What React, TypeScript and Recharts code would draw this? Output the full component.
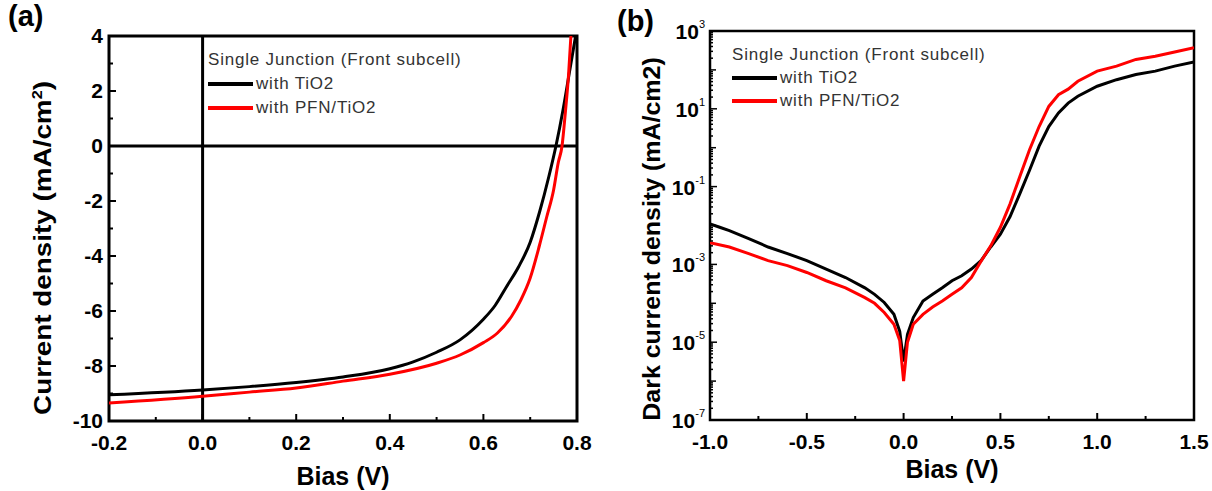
import { LineChart, Line, XAxis, YAxis, ReferenceLine, ReferenceArea } from "recharts";

// (a) J-V under illumination
const jvTiO2 = [
  { v: -0.2, j: -9.05 }, { v: 0, j: -8.87 }, { v: 0.1, j: -8.75 }, { v: 0.2, j: -8.6 },
  { v: 0.3, j: -8.4 }, { v: 0.4, j: -8.1 }, { v: 0.45, j: -7.85 }, { v: 0.5, j: -7.5 },
  { v: 0.55, j: -7.05 }, { v: 0.6, j: -6.3 }, { v: 0.625, j: -5.8 }, { v: 0.65, j: -5.1 },
  { v: 0.675, j: -4.4 }, { v: 0.7, j: -3.5 }, { v: 0.72, j: -2.4 }, { v: 0.74, j: -1.1 },
  { v: 0.755, j: 0 }, { v: 0.77, j: 1.3 }, { v: 0.785, j: 2.8 }, { v: 0.797, j: 4 },
];
const jvPFN = [
  { v: -0.2, j: -9.35 }, { v: 0, j: -9.1 }, { v: 0.1, j: -8.95 }, { v: 0.2, j: -8.8 },
  { v: 0.3, j: -8.55 }, { v: 0.4, j: -8.3 }, { v: 0.5, j: -7.9 }, { v: 0.55, j: -7.6 },
  { v: 0.6, j: -7.15 }, { v: 0.63, j: -6.8 }, { v: 0.66, j: -6.2 }, { v: 0.68, j: -5.6 },
  { v: 0.7, j: -4.8 }, { v: 0.72, j: -3.6 }, { v: 0.735, j: -2.6 }, { v: 0.75, j: -1.6 },
  { v: 0.76, j: -0.6 }, { v: 0.768, j: 0 }, { v: 0.775, j: 1.2 }, { v: 0.782, j: 2.6 }, { v: 0.787, j: 4 },
];

// (b) dark current, mA/cm2
const darkTiO2 = [
  { v: -1.0, j: 1.1e-2 }, { v: -0.95, j: 9e-3 }, { v: -0.9, j: 7.4e-3 }, { v: -0.8, j: 4.6e-3 },
  { v: -0.7, j: 2.8e-3 }, { v: -0.6, j: 1.9e-3 }, { v: -0.5, j: 1.25e-3 }, { v: -0.4, j: 7.6e-4 },
  { v: -0.3, j: 4.6e-4 }, { v: -0.2, j: 2.5e-4 }, { v: -0.15, j: 1.7e-4 }, { v: -0.1, j: 1.05e-4 },
  { v: -0.05, j: 5.2e-5 }, { v: -0.02, j: 1.9e-5 }, { v: 0, j: 3.2e-6 }, { v: 0.02, j: 1.6e-5 },
  { v: 0.05, j: 4.3e-5 }, { v: 0.1, j: 1.15e-4 }, { v: 0.15, j: 1.7e-4 }, { v: 0.2, j: 2.5e-4 },
  { v: 0.25, j: 3.8e-4 }, { v: 0.3, j: 5.1e-4 }, { v: 0.35, j: 7.6e-4 }, { v: 0.4, j: 1.25e-3 },
  { v: 0.45, j: 2.8e-3 }, { v: 0.5, j: 6.0e-3 }, { v: 0.55, j: 1.7e-2 }, { v: 0.6, j: 6.5e-2 },
  { v: 0.65, j: 2.6e-1 }, { v: 0.7, j: 1.1 }, { v: 0.75, j: 3.5 }, { v: 0.8, j: 7.8 },
  { v: 0.85, j: 14 }, { v: 0.9, j: 21 }, { v: 1.0, j: 38 }, { v: 1.1, j: 56 },
  { v: 1.2, j: 76 }, { v: 1.3, j: 93 }, { v: 1.4, j: 125 }, { v: 1.5, j: 160 },
];
const darkPFN = [
  { v: -1.0, j: 3.6e-3 }, { v: -0.9, j: 2.8e-3 }, { v: -0.8, j: 1.9e-3 }, { v: -0.7, j: 1.25e-3 },
  { v: -0.6, j: 9.3e-4 }, { v: -0.5, j: 6.2e-4 }, { v: -0.4, j: 3.8e-4 }, { v: -0.3, j: 2.5e-4 },
  { v: -0.2, j: 1.4e-4 }, { v: -0.15, j: 1.0e-4 }, { v: -0.1, j: 5.8e-5 }, { v: -0.05, j: 2.9e-5 },
  { v: -0.02, j: 1.1e-5 }, { v: 0, j: 1.0e-6 }, { v: 0.02, j: 1.0e-5 }, { v: 0.05, j: 2.9e-5 },
  { v: 0.1, j: 5.2e-5 }, { v: 0.15, j: 8e-5 }, { v: 0.2, j: 1.15e-4 }, { v: 0.25, j: 1.7e-4 },
  { v: 0.3, j: 2.5e-4 }, { v: 0.35, j: 4.6e-4 }, { v: 0.4, j: 1.2e-3 }, { v: 0.45, j: 3.0e-3 },
  { v: 0.5, j: 9.0e-3 }, { v: 0.55, j: 3.6e-2 }, { v: 0.6, j: 1.8e-1 }, { v: 0.65, j: 8.7e-1 },
  { v: 0.7, j: 3.5 }, { v: 0.75, j: 11.5 }, { v: 0.8, j: 23 }, { v: 0.85, j: 32 },
  { v: 0.9, j: 51 }, { v: 1.0, j: 93 }, { v: 1.1, j: 125 }, { v: 1.2, j: 186 },
  { v: 1.3, j: 224 }, { v: 1.4, j: 290 }, { v: 1.5, j: 370 },
];

const seriesNames = ["with TiO2", "with PFN/TiO2"];
const seriesColors = ["#000", "#ff0000"];
const legendTitle = "Single Junction (Front subcell)";

const xTicksA = [-0.2, -0.1, 0, 0.1, 0.2, 0.3, 0.4, 0.5, 0.6, 0.7, 0.8];
const yTicksA = [-10, -9, -8, -7, -6, -5, -4, -3, -2, -1, 0, 1, 2, 3, 4];
const xTicksB = [-1, -0.75, -0.5, -0.25, 0, 0.25, 0.5, 0.75, 1, 1.25, 1.5];
const logExps = [-7, -6, -5, -4, -3, -2, -1, 0, 1, 2];

const yTicksB: number[] = [];
logExps.forEach((e) => {
  for (let k = 1; k <= 9; k++) yTicksB.push(k * Math.pow(10, e));
});
yTicksB.push(1000);

const FONT = "'Liberation Sans', Arial, sans-serif";
const A = { left: 109, top: 36, right: 577, bottom: 421 };
const B = { left: 110, top: 31, right: 594, bottom: 420 };

const near = (a: number, b: number) => Math.abs(a - b) < 1e-6;

const xTickA = ({ x, payload }: any) => {
  const v = payload.value;
  const major = near(Math.round(v * 5) / 5, v);
  return (
    <g>
      <line x1={x} x2={x} y1={A.bottom} y2={A.bottom - (major ? 7 : 4)} stroke="#000" strokeWidth={2} />
      {major && (
        <text x={x} y={A.bottom + 29} textAnchor="middle" fontFamily={FONT} fontWeight="bold" fontSize={21} fill="#000">
          {v.toFixed(1)}
        </text>
      )}
    </g>
  );
};

const yTickA = ({ y, payload }: any) => {
  const v = payload.value;
  const major = v % 2 === 0;
  return (
    <g>
      <line x1={A.left} x2={A.left + (major ? 7 : 4)} y1={y} y2={y} stroke="#000" strokeWidth={2} />
      {major && (
        <text x={A.left - 6} y={y + 7} textAnchor="end" fontFamily={FONT} fontWeight="bold" fontSize={21} fill="#000">
          {v}
        </text>
      )}
    </g>
  );
};

const xTickB = ({ x, payload }: any) => {
  const v = payload.value;
  const major = near(Math.round(v * 2) / 2, v);
  return (
    <g>
      <line x1={x} x2={x} y1={B.bottom} y2={B.bottom - (major ? 7 : 4)} stroke="#000" strokeWidth={2} />
      {major && (
        <text x={x} y={B.bottom + 29} textAnchor="middle" fontFamily={FONT} fontWeight="bold" fontSize={21} fill="#000">
          {v.toFixed(1)}
        </text>
      )}
    </g>
  );
};

const yTickB = ({ y, payload }: any) => {
  const v = payload.value;
  const e = Math.round(Math.log10(v));
  const decade = near(v / Math.pow(10, e), 1);
  const labeled = decade && Math.abs(e % 2) === 1;
  const len = labeled ? 7 : decade ? 6 : 3;
  return (
    <g>
      <line x1={B.left} x2={B.left + len} y1={y} y2={y} stroke="#000" strokeWidth={1.5} />
      {labeled && (
        <text x={B.left - 5} y={y + 8} textAnchor="end" fontFamily={FONT} fill="#000">
          <tspan fontWeight="bold" fontSize={21}>10</tspan>
          <tspan fontSize={11} dy={-11}>{e}</tspan>
        </text>
      )}
    </g>
  );
};

function LegendBox({ left, top, gap }: { left: number; top: number; gap: number }) {
  return (
    <div style={{ position: "absolute", left, top, fontFamily: FONT, fontSize: 17, letterSpacing: 0.8, color: "#333", lineHeight: `${gap}px`, whiteSpace: "nowrap" }}>
      <div>{legendTitle}</div>
      {seriesNames.map((n, i) => (
        <div key={n} style={{ display: "flex", alignItems: "center" }}>
          <span style={{ display: "inline-block", width: 45, height: 4, background: seriesColors[i], marginRight: 3 }} />
          <span>{n}</span>
        </div>
      ))}
    </div>
  );
}

const textStyle: any = { position: "absolute", fontFamily: FONT, fontWeight: "bold", color: "#000", whiteSpace: "nowrap" };

export default function App() {
  return (
    <div style={{ position: "absolute", left: 0, top: 0, width: 1212, height: 491, background: "#fff", overflow: "hidden" }}>
      <div style={{ ...textStyle, left: 8, top: 0, fontSize: 29 }}>(a)</div>
      <div style={{ ...textStyle, left: 617, top: 5, fontSize: 29 }}>(b)</div>

      <div style={{ position: "absolute", left: 0, top: 0 }}>
        <LineChart width={600} height={491} margin={{ top: 36, right: 23, bottom: 0, left: 0 }}>
          <XAxis type="number" dataKey="v" domain={[-0.2, 0.8]} ticks={xTicksA} interval={0} height={70}
            axisLine={false} tickLine={false} tick={xTickA} allowDataOverflow />
          <YAxis type="number" dataKey="j" domain={[-10, 4]} ticks={yTicksA} interval={0} width={109}
            axisLine={false} tickLine={false} tick={yTickA} allowDataOverflow />
          <ReferenceArea x1={-0.2} x2={0.8} y1={-10} y2={4} fill="none" stroke="#000" strokeWidth={3} ifOverflow="visible" />
          <ReferenceLine x={0} stroke="#000" strokeWidth={3} />
          <ReferenceLine y={0} stroke="#000" strokeWidth={3} />
          <Line data={jvTiO2} dataKey="j" name={seriesNames[0]} type="monotone" stroke={seriesColors[0]} strokeWidth={3} dot={false} isAnimationActive={false} />
          <Line data={jvPFN} dataKey="j" name={seriesNames[1]} type="monotone" stroke={seriesColors[1]} strokeWidth={3} dot={false} isAnimationActive={false} />
        </LineChart>
      </div>

      <div style={{ position: "absolute", left: 600, top: 0 }}>
        <LineChart width={612} height={491} margin={{ top: 31, right: 18, bottom: 0, left: 0 }}>
          <XAxis type="number" dataKey="v" domain={[-1, 1.5]} ticks={xTicksB} interval={0} height={71}
            axisLine={false} tickLine={false} tick={xTickB} allowDataOverflow />
          <YAxis type="number" dataKey="j" scale="log" domain={[1e-7, 1e3]} ticks={yTicksB} interval={0} width={110}
            axisLine={false} tickLine={false} tick={yTickB} allowDataOverflow />
          <ReferenceArea x1={-1} x2={1.5} y1={1e-7} y2={1e3} fill="none" stroke="#000" strokeWidth={2.5} ifOverflow="visible" />
          <Line data={darkTiO2} dataKey="j" name={seriesNames[0]} type="linear" stroke={seriesColors[0]} strokeWidth={3} dot={false} isAnimationActive={false} />
          <Line data={darkPFN} dataKey="j" name={seriesNames[1]} type="linear" stroke={seriesColors[1]} strokeWidth={3} dot={false} isAnimationActive={false} />
        </LineChart>
      </div>

      <LegendBox left={208} top={48} gap={24} />
      <LegendBox left={732} top={43} gap={23} />

      <div style={{ ...textStyle, left: 43, top: 248, fontSize: 24, transform: "translate(-50%, -50%) rotate(-90deg) scale(1.16, 1)" }}>
        Current density (mA/cm<sup style={{ fontSize: 14 }}>2</sup>)
      </div>
      <div style={{ ...textStyle, left: 343, top: 462, fontSize: 25, transform: "translateX(-50%)" }}>Bias (V)</div>
      <div style={{ ...textStyle, left: 652, top: 239, fontSize: 24, transform: "translate(-50%, -50%) rotate(-90deg) scale(1.04, 1)" }}>
        Dark current density (mA/cm2)
      </div>
      <div style={{ ...textStyle, left: 952, top: 455, fontSize: 25, transform: "translateX(-50%)" }}>Bias (V)</div>
    </div>
  );
}
